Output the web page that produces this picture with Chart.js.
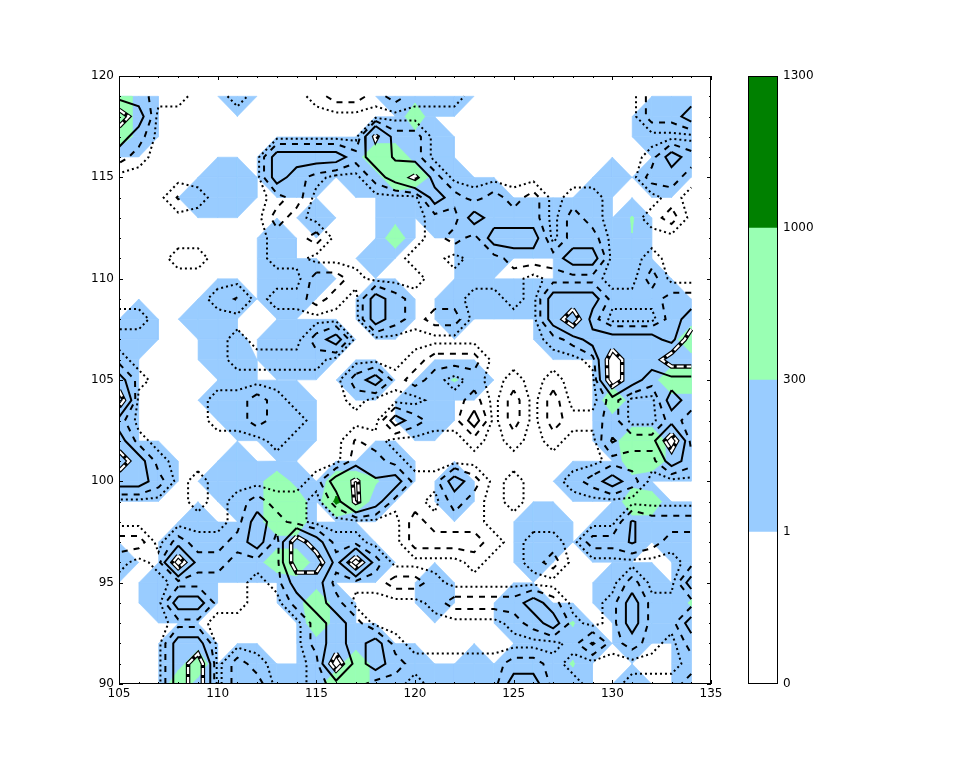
<!DOCTYPE html>
<html><head><meta charset="utf-8">
<style>html,body{margin:0;padding:0;background:#fff}canvas{position:absolute;left:0;top:0}#w{position:relative;width:954px;height:761px;overflow:hidden}</style>
<script src="https://cdn.jsdelivr.net/npm/chart.js@4"></script>
</head><body><div id="w"><canvas id="c1" width="954" height="761"></canvas><canvas id="c2" width="954" height="761"></canvas></div>
<script>
const xStart=105, yStart=119;
const xTicksMajor=[105,110,115,120,125,130,135];
const yTicksMajor=[90,95,100,105,110,115,120];
const barLabels=['0','1','300','1000','1300'];
const barColors=['#ffffff','#99ccff','#99ffb3','#008000'];
// fill field: '.'=0, 1 blue, 2 green, 3 dark green, h/k blue/green nodes holding an unfilled (white) spot, a/b/c near level values
const fillValues={'.':0,'1':150,'2':600,'3':1150,'h':150,'k':600,'a':290,'b':330,'c':2};
const fillLevels=[1,300,1000];
const fillColors=['#99ccff','#99ffb3','#008000'];
const fillRows=[
"21....1... ....1111.. ........11",
"21........ .....2.... .......111",
"21........ ...h111... .......111",
"........11 1112211... ........11",
".....11.11 1.112k11.. .....1.11.",
"....111... ....1.1111 ....1.....",
".......... 1...1.11.1 11111.b...",
"........1. ....2...11 11111.a...",
"........1. ...1....11 ...11.1...",
"........11 1.......1. ...11.11..",
".....11.11 ...11..111 1111.1111.",
".1..11.... ...11..1.. ..11111111",
".1...1c.11 11........ ..11111112",
"1....11.11 1......... .....1111h",
"1.....1... ..11..1b1. .....h1122",
"1....11111 .....11... .....21111",
"1.....1111 .....11... .....11111",
"1.......11 .......... .....122h1",
"111...1... ...11..... ......2211",
"111..11121 .2kb1..1.. ...1111...",
"......1122 .3k1...1.. ......22..",
"....1..122 .......... .11..11111",
"...1111111 111....... .11.111.11",
"1..h111122 11h1...... .1.......1",
"..111....1 1.....1... .....111.1",
"..111....1 21....1... 11...1111b",
".......... 21........ 111b..1111",
"...11..... 1111...... ..111.1..1",
"...12.11.. 1h2111..1. 111b.....1",
"...2111111 1221111111 1111..1..1"
];
// line field: 0 outside, 1 dotted, 2 dashed, 3 solid, 4 ring, others near-level values
const lineValues={'0':0,'1':2,'2':5,'3':10,'4':20,'x':3.8,'y':8,'z':7,'w':16};
const lineLevels=[1,3.5,7.5,15];
const lineRows=[
"2211001000 1221211100 0000000222",
"4300000000 0000000000 0000000223",
"3200000000 000w220000 0000000000",
"2100000033 3323z20000 0000000132",
"0000000032 10023w2000 0000000221",
"000x100012 0000003212 1201100010",
"0000000021 0000001132 2202100120",
"0000000011 2000001213 3302200000",
"0001100011 0000011011 2223300100",
"0000000000 2210001111 1011100200",
"000001x011 2103211100 1033311122",
"1100000000 0003212200 0034200023",
"0000001000 2300000000 0012333324",
"1000001111 1000012220 0000143344",
"3100000000 0023121010 1010043222",
"4000011210 0010001120 2020020032",
"2000011211 0000321130 2021120021",
"3100000010 00x1000010 10100y2241",
"4310000000 0022100000 0000011132",
"3320100000 13wy311320 1001232000",
"0000101211 02w3110210 1000000000",
"0000001321 0000021110 000000y222",
"2202112314 3110022221 011022y211",
"1014221114 4242000010 0120000001",
"0001111013 3111221000 0000002003",
"0003311002 3200001222 2320013111",
"0001100000 2320000000 1231013113",
"0003300000 2323100000 0001y12102",
"0003402100 1423211111 2210000001",
"0003402200 1221101111 3311001112"
];
function grid(rows,map){return rows.map(r=>r.replace(/ /g,'').split('').map(ch=>map[ch]||0));}
const F=grid(fillRows,fillValues), L=grid(lineRows,lineValues);
const holes=[];
fillRows.forEach((row,r)=>row.replace(/ /g,'').split('').forEach((ch,c)=>{if(ch==='h'||ch==='k')holes.push({x:xStart+c,y:yStart-r});}));
const nR=F.length,nC=F[0].length;
function P(c,r){return {x:xStart+c,y:yStart-r};}
function cellPolys(G,c,r,lv){
  const cs=[[c,r],[c+1,r],[c+1,r+1],[c,r+1]];
  const v=cs.map(p=>G[p[1]][p[0]]);
  const ins=v.map(a=>a>=lv);
  const n=ins.filter(Boolean).length;
  if(n===0)return [];
  const cross=(i,j)=>{const t=(lv-v[i])/(v[j]-v[i]);return {x:xStart+cs[i][0]+t*(cs[j][0]-cs[i][0]),y:yStart-(cs[i][1]+t*(cs[j][1]-cs[i][1]))};};
  const pt=i=>P(cs[i][0],cs[i][1]);
  const mean=(v[0]+v[1]+v[2]+v[3])/4;
  if(n===2&&ins[0]===ins[2]&&mean<lv){
    const out=[];
    for(let i=0;i<4;i++) if(ins[i]) out.push([pt(i),cross(i,(i+1)%4),cross(i,(i+3)%4)]);
    return out;
  }
  const poly=[];
  for(let i=0;i<4;i++){const j=(i+1)%4;
    if(ins[i])poly.push(pt(i));
    if(ins[i]!==ins[j])poly.push(cross(i,j));}
  return [poly];
}
function contourLines(G,lv){
  const segs=[];
  for(let r=0;r<nR-1;r++)for(let c=0;c<nC-1;c++){
    const cs=[[c,r],[c+1,r],[c+1,r+1],[c,r+1]];
    const v=cs.map(p=>G[p[1]][p[0]]);
    const edges=[];
    for(let i=0;i<4;i++){const j=(i+1)%4;
      if((v[i]>=lv)!==(v[j]>=lv)){
        const t=(lv-v[i])/(v[j]-v[i]);
        const key=(i%2===0?'h':'v')+Math.min(cs[i][0],cs[j][0])+','+Math.min(cs[i][1],cs[j][1]);
        edges.push({i,key,p:{x:xStart+cs[i][0]+t*(cs[j][0]-cs[i][0]),y:yStart-(cs[i][1]+t*(cs[j][1]-cs[i][1]))}});
      }}
    if(edges.length===2)segs.push([edges[0],edges[1]]);
    else if(edges.length===4){
      const mean=(v[0]+v[1]+v[2]+v[3])/4;
      const inside0=v[0]>=lv;
      const pairA=(mean>=lv)===inside0;
      if(pairA){segs.push([edges[0],edges[1]]);segs.push([edges[2],edges[3]]);}
      else{segs.push([edges[3],edges[0]]);segs.push([edges[1],edges[2]]);}
    }
  }
  const byKey={};
  segs.forEach((s,n)=>{s.forEach(e=>{(byKey[e.key]=byKey[e.key]||[]).push(n);});});
  const used=segs.map(()=>false),out=[];
  function walk(start,startEdge){
    const pts=[];let cur=start,from=startEdge;
    pts.push(segs[cur].find(e=>e.key===from).p);
    while(true){
      used[cur]=true;
      const other=segs[cur].find(e=>e.key!==from);
      pts.push(other.p);
      const next=(byKey[other.key]||[]).find(n=>n!==cur&&!used[n]);
      if(next===undefined)break;
      cur=next;from=other.key;
    }
    return pts;
  }
  segs.forEach((s,n)=>{
    if(used[n])return;
    if(byKey[s[0].key].length===1)out.push(walk(n,s[0].key));
    else if(byKey[s[1].key].length===1)out.push(walk(n,s[1].key));
  });
  segs.forEach((s,n)=>{if(!used[n]){const p=walk(n,s[0].key);
    const a=p[0],b=p[p.length-1];if(a.x!==b.x||a.y!==b.y)p.push(a);p.closed=true;out.push(p);}});
  return out;
}
const sets=[];
fillLevels.forEach((lv,k)=>{
  for(let r=0;r<nR-1;r++)for(let c=0;c<nC-1;c++){
    cellPolys(F,c,r,lv).forEach(poly=>{
      poly.push(poly[0]);
      sets.push({data:poly,showLine:true,pointRadius:0,fill:'shape',backgroundColor:fillColors[k],borderColor:fillColors[k],borderWidth:0.6,tension:0});
    });
  }
});
const lineStyles=[[2,3],[6,6],[],[]];
lineLevels.forEach((lv,k)=>{
  contourLines(L,lv).forEach(pts=>{
    if(k===3){
      const xs=pts.map(p=>p.x),ys=pts.map(p=>p.y);
      const x0=Math.min(...xs),x1=Math.max(...xs),y0=Math.min(...ys),y1=Math.max(...ys);
      if(pts.closed&&holes.some(h=>h.x>=x0&&h.x<=x1&&h.y>=y0&&h.y<=y1))
        sets.push({data:pts,showLine:true,pointRadius:0,fill:'shape',backgroundColor:'#fff',borderColor:'#fff',borderWidth:0,tension:0});
      sets.push({data:pts,showLine:true,pointRadius:0,fill:false,borderColor:'#000',borderWidth:4.5,tension:0});
      sets.push({data:pts,showLine:true,pointRadius:0,fill:false,borderColor:'#fff',borderWidth:2.2,borderDash:[7,3],tension:0});
    }else{
      sets.push({data:pts,showLine:true,pointRadius:0,fill:false,borderColor:'#000',borderWidth:2,borderDash:lineStyles[k],borderCapStyle:'butt',tension:0});
    }
  });
});
sets.reverse();
const frame={id:'frame',afterDraw(ch){
  const a=ch.chartArea,g=ch.ctx;g.save();g.strokeStyle='#000';g.lineWidth=1;
  g.strokeRect(a.left+.5,a.top+.5,a.right-a.left-1,a.bottom-a.top-1);
  const sx=ch.scales.x,sy=ch.scales.y;
  if(ch.canvas.id==='c1'){
    for(let v=105;v<=135;v++){const l=xTicksMajor.includes(v)?4:2,p=Math.round(sx.getPixelForValue(v))+.5;
      g.beginPath();g.moveTo(p,a.top);g.lineTo(p,a.top+l);g.moveTo(p,a.bottom);g.lineTo(p,a.bottom-l);g.stroke();}
    for(let v=90;v<=120;v++){const l=yTicksMajor.includes(v)?4:2,p=Math.round(sy.getPixelForValue(v))+.5;
      g.beginPath();g.moveTo(a.left,p);g.lineTo(a.left+l,p);g.moveTo(a.right,p);g.lineTo(a.right-l,p);g.stroke();}
  }
  g.restore();
}};
Chart.defaults.animation=false;
Chart.defaults.font.family='"DejaVu Sans"';
Chart.defaults.font.size=12;
Chart.defaults.color='#000';
new Chart(document.getElementById('c1'),{type:'scatter',data:{datasets:sets},plugins:[frame],options:{
  responsive:false,events:[],
  layout:{padding:{left:79,top:76,right:243,bottom:47}},
  plugins:{legend:{display:false},tooltip:{enabled:false}},
  scales:{
    x:{type:'linear',min:105,max:135,afterFit(s){s.height=30;},grid:{display:false,drawTicks:false,tickLength:0},border:{display:false},
       ticks:{stepSize:1,autoSkip:false,maxRotation:0,padding:3,callback:v=>xTicksMajor.includes(v)?String(v):''}},
    y:{type:'linear',min:90,max:120,afterFit(s){s.width=40;},grid:{display:false,drawTicks:false,tickLength:0},border:{display:false},
       ticks:{stepSize:1,autoSkip:false,padding:5,callback:v=>yTicksMajor.includes(v)?String(v):''}}
  }}});
new Chart(document.getElementById('c2'),{type:'bar',
  data:{labels:['c'],datasets:barColors.map(col=>({data:[1],backgroundColor:col,barPercentage:1,categoryPercentage:1,stack:'s'}))},
  plugins:[frame],options:{
  responsive:false,events:[],
  layout:{padding:{left:748,top:76,right:116,bottom:77}},
  plugins:{legend:{display:false},tooltip:{enabled:false}},
  scales:{
    x:{stacked:true,display:false,grid:{display:false}},
    y:{stacked:true,min:0,max:4,position:'right',afterFit(s){s.width=60;},grid:{display:false,drawTicks:false,tickLength:0},border:{display:false},
       ticks:{stepSize:1,padding:5,callback:v=>barLabels[v]}}
  }}});
</script></body></html>
